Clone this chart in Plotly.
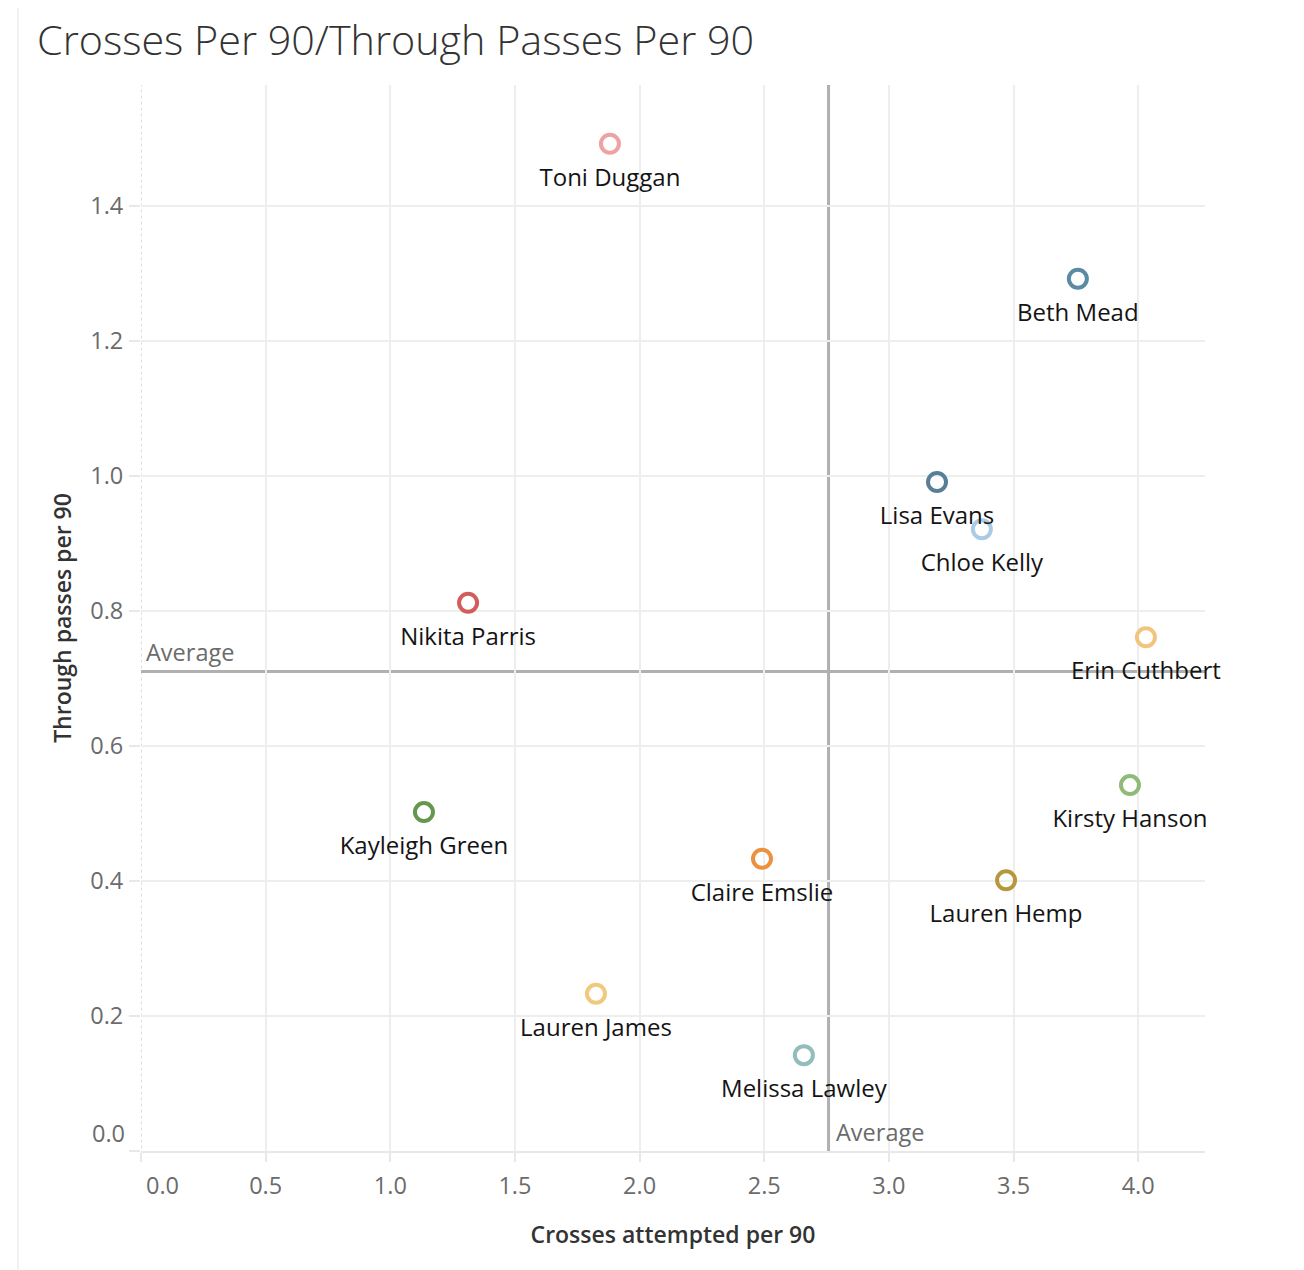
import numpy as np
import plotly.graph_objects as go

players = ["Toni Duggan", "Beth Mead", "Lisa Evans", "Chloe Kelly", "Nikita Parris",
           "Erin Cuthbert", "Kirsty Hanson", "Kayleigh Green", "Claire Emslie",
           "Lauren Hemp", "Lauren James", "Melissa Lawley"]
crosses_per_90 = [1.881, 3.758, 3.193, 3.373, 1.312, 4.031, 3.967, 1.135, 2.491, 3.470, 1.825, 2.659]
through_per_90 = [1.492, 1.292, 0.991, 0.921, 0.812, 0.761, 0.542, 0.502, 0.433, 0.401, 0.233, 0.142]
colors = ["#efa2a2", "#5b8aa3", "#587f98", "#a9cbe5", "#d35c5c", "#f2c57f",
          "#8fba78", "#66974f", "#ea9240", "#b6983c", "#f1c97c", "#93bcbc"]

x_ticks = [0.0, 0.5, 1.0, 1.5, 2.0, 2.5, 3.0, 3.5, 4.0]
y_ticks = [0.0, 0.2, 0.4, 0.6, 0.8, 1.0, 1.2, 1.4]

avg_x = float(np.mean(crosses_per_90))
avg_y = float(np.mean(through_per_90))

TICK_FONT = dict(family="Open Sans", size=23.5, color="#6b6b6b")
LABEL_FONT = dict(family="Open Sans", size=24, color="#141414")
AVG_FONT = dict(family="Open Sans", size=23.5, color="#6b6b6b")

W, H = 1296, 1262  # page body adds an 8px margin

fig = go.Figure()

# average reference lines
fig.add_shape(type="line", xref="paper", x0=0, x1=1, yref="y", y0=avg_y, y1=avg_y,
              line=dict(color="#b0b0b0", width=3), layer="below")
fig.add_shape(type="line", xref="x", x0=avg_x, x1=avg_x, yref="paper", y0=0, y1=1,
              line=dict(color="#b0b0b0", width=3), layer="below")
# dotted zero line
fig.add_shape(type="line", xref="x", x0=0, x1=0, yref="paper", y0=-0.009, y1=1,
              line=dict(color="#bdbdbd", width=1, dash="dot"), layer="below")
# page border
fig.add_shape(type="line", xref="paper", x0=-0.1156, x1=-0.1156, yref="paper", y0=-0.13, y1=1.09,
              line=dict(color="#eeeeee", width=1.5))

# markers
fig.add_trace(go.Scatter(
    x=crosses_per_90, y=through_per_90, mode="markers",
    marker=dict(symbol="circle-open", size=18, color=colors, line=dict(width=4, color=colors)),
    text=players, hoverinfo="text", showlegend=False, cliponaxis=False,
))
# labels, offset below the markers by an invisible larger marker
fig.add_trace(go.Scatter(
    x=crosses_per_90, y=through_per_90, mode="markers+text",
    text=players, textposition="bottom center", textfont=LABEL_FONT,
    marker=dict(size=37, color="rgba(0,0,0,0)"),
    hoverinfo="skip", showlegend=False, cliponaxis=False,
))

fig.add_annotation(x=0, y=avg_y, xref="x", yref="y", text="Average", showarrow=False,
                   xanchor="left", yanchor="bottom", xshift=3, yshift=2, font=AVG_FONT)
fig.add_annotation(x=avg_x, y=0, xref="x", yref="y", text="Average", showarrow=False,
                   xanchor="left", yanchor="bottom", xshift=5, yshift=1, font=AVG_FONT)
# shifted zero tick labels (as Tableau draws them)
fig.add_annotation(x=0, y=0, xref="x", yref="y", text="0.0", showarrow=False,
                   xanchor="center", yanchor="middle", xshift=21, yshift=-34, font=TICK_FONT)
fig.add_annotation(x=0, y=0, xref="x", yref="y", text="0.0", showarrow=False,
                   xanchor="right", yanchor="middle", xshift=-14, yshift=18, font=TICK_FONT)

fig.update_layout(
    width=W, height=H,
    margin=dict(l=133, r=99, t=77, b=119),
    paper_bgcolor="white", plot_bgcolor="white",
    title=dict(text="Crosses Per 90/Through Passes Per 90", xref="container", yref="container",
               x=29 / W, y=1 - 33 / H, xanchor="left", yanchor="middle",
               font=dict(family="Open Sans", size=41.3, color="#333333", weight=300)),
    xaxis=dict(range=[0, 4.268], tickvals=x_ticks,
               ticktext=["" if v == 0 else f"{v:.1f}" for v in x_ticks],
               showgrid=True, gridcolor="#eeeeee", gridwidth=2, zeroline=False,
               showline=True, linecolor="#e8e8e8", linewidth=2,
               ticks="outside", ticklen=9, tickcolor="#e8e8e8", tickwidth=2,
               ticklabelstandoff=4, tickfont=TICK_FONT,
               title=dict(text="Crosses attempted per 90", standoff=27,
                          font=dict(family="Open Sans", size=23, color="#333333", weight=600))),
    yaxis=dict(range=[0, 1.579], tickvals=y_ticks,
               ticktext=["" if v == 0 else f"{v:.1f}" for v in y_ticks],
               showgrid=True, gridcolor="#eeeeee", gridwidth=2, zeroline=False,
               showline=False,
               ticks="outside", ticklen=11, tickcolor="#e8e8e8", tickwidth=2,
               ticklabelstandoff=1, tickfont=TICK_FONT,
               title=dict(text="Through passes per 90", standoff=12,
                          font=dict(family="Open Sans", size=23, color="#333333", weight=600))),
)

fig.write_html("out.html")
